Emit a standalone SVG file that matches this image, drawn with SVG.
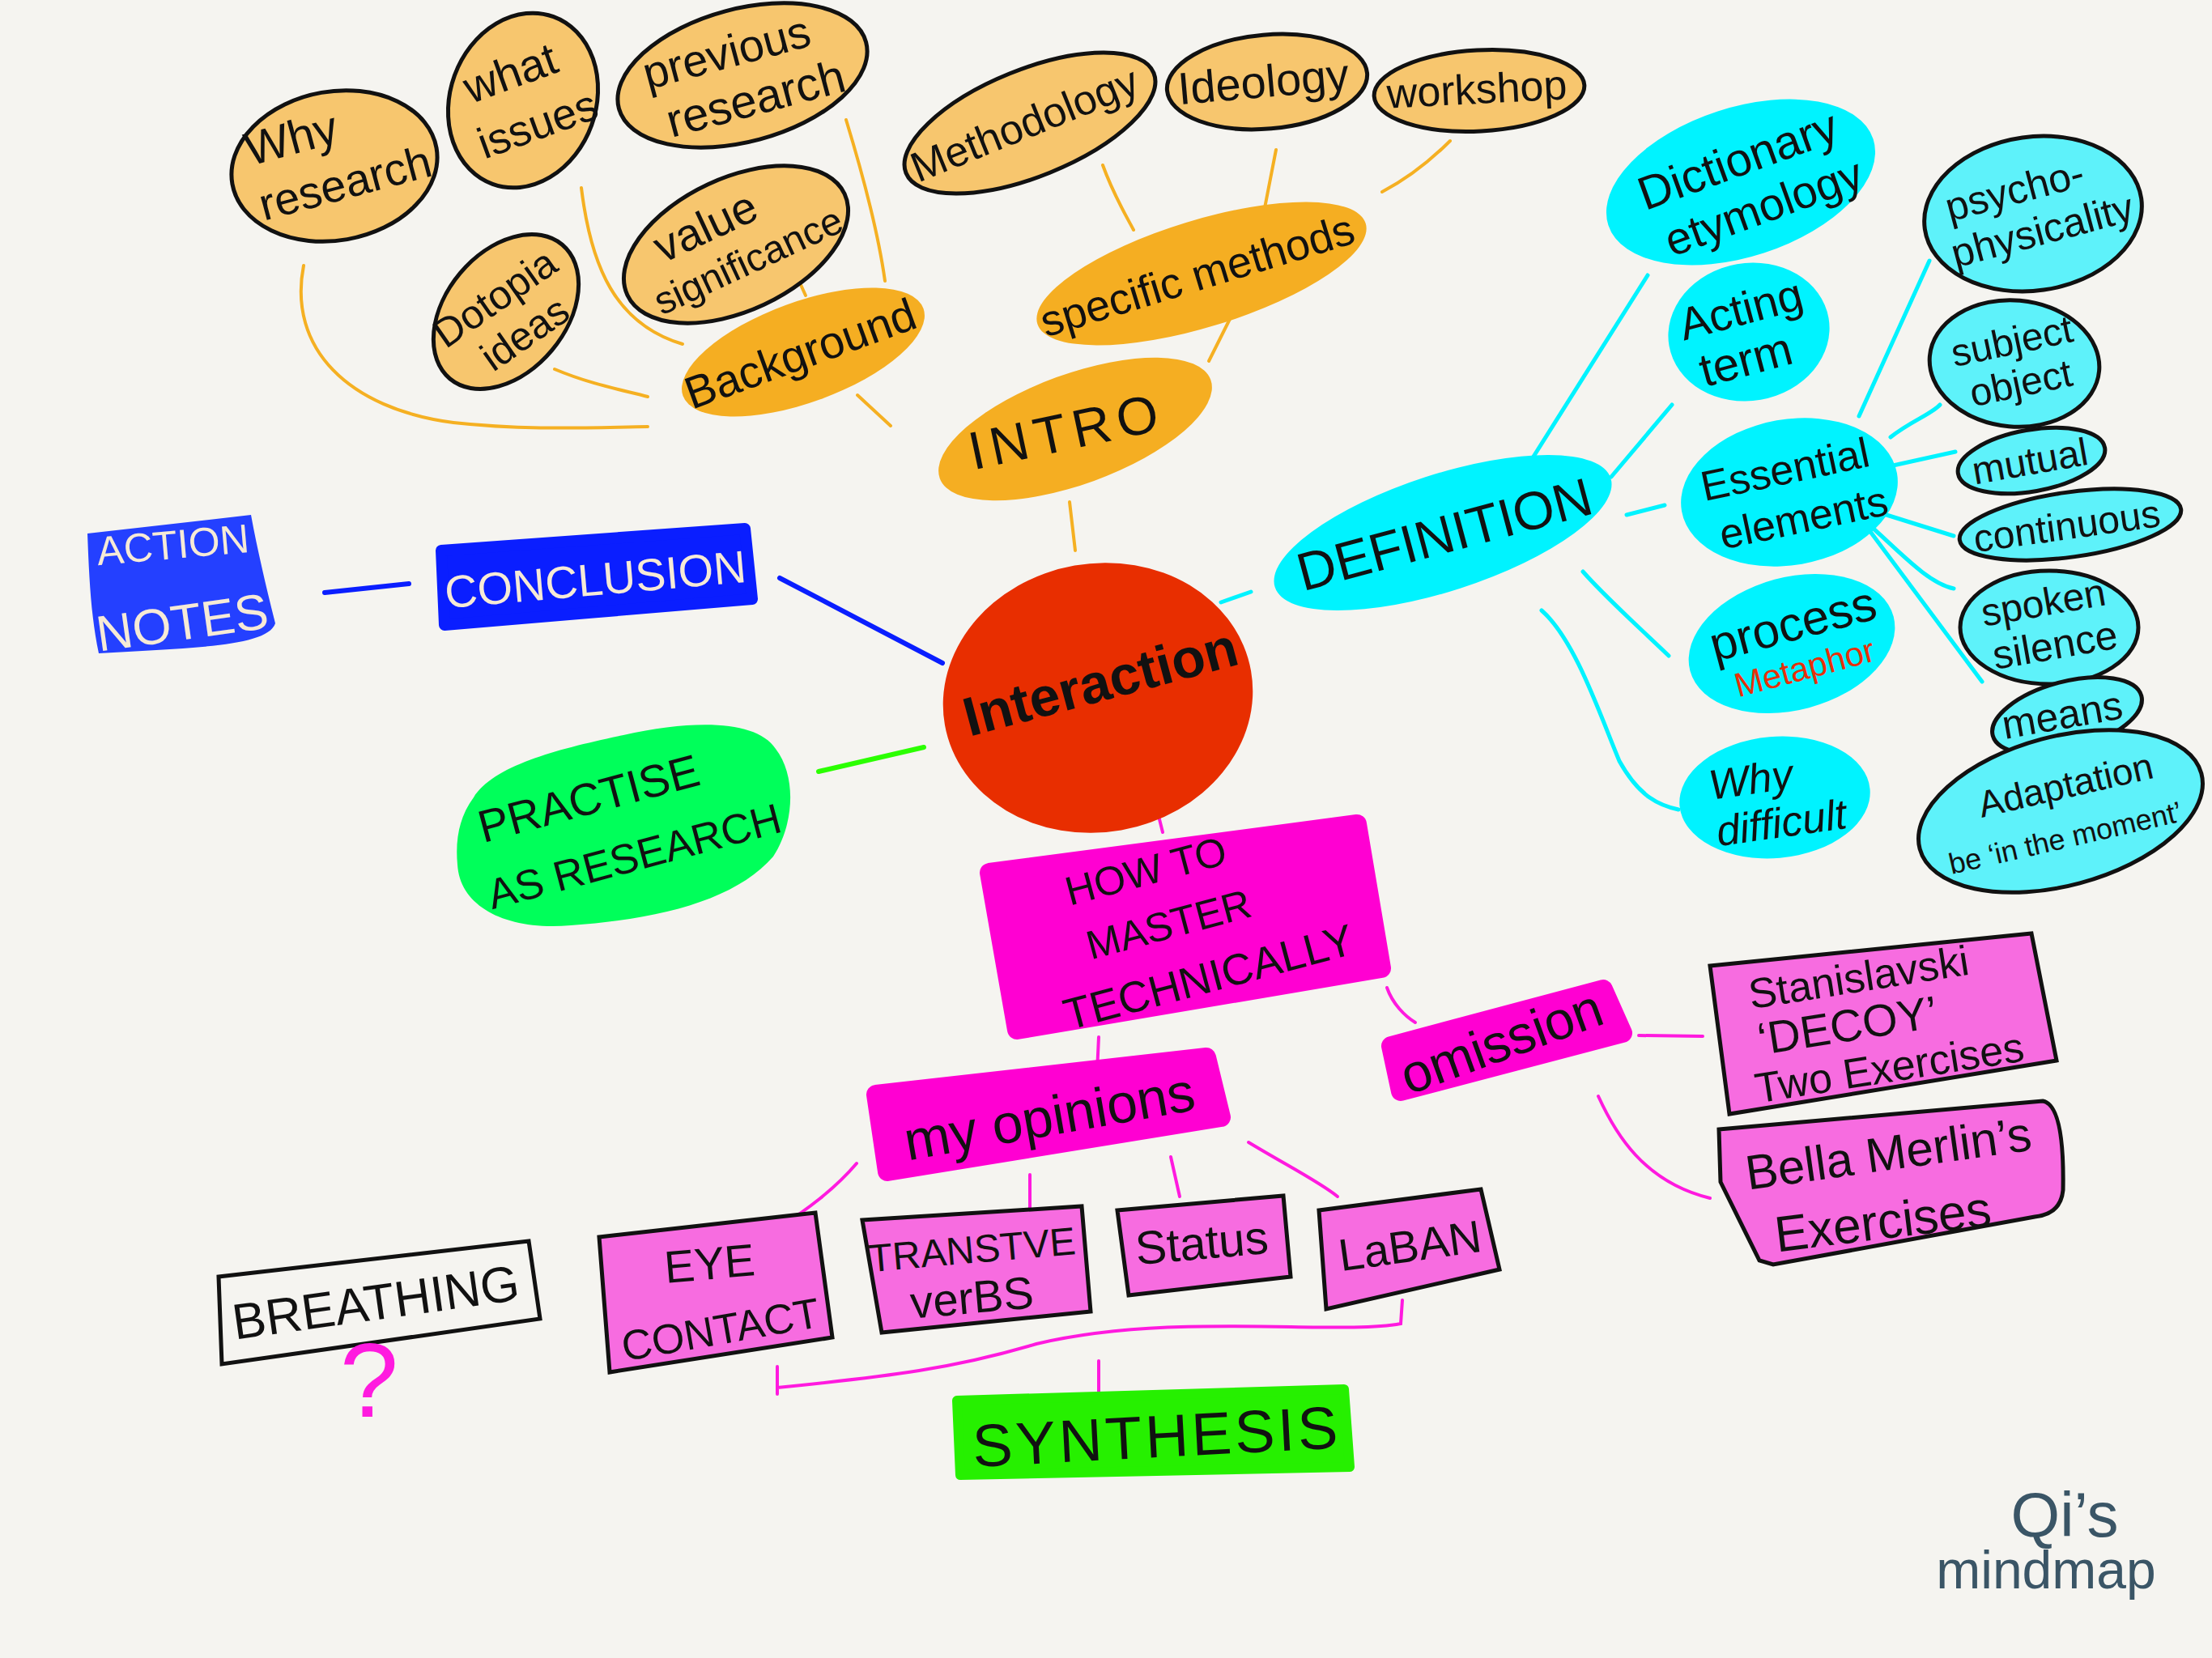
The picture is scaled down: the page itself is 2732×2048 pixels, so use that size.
<svg xmlns="http://www.w3.org/2000/svg" width="2732" height="2048" viewBox="0 0 2732 2048">
<defs>
<style>
text{font-family:"Liberation Sans","Noto Sans",sans-serif;fill:#111;text-anchor:middle}
.ol{stroke:#111;stroke-width:5}
.org{fill:#f5ae22}
.lorg{fill:#f7c66e}
.cy{fill:#00f3ff}
.lcy{fill:#5ef2fa}
.mag{fill:#ff00d2;stroke:#ff00d2;stroke-width:24;stroke-linejoin:round}
.pk{fill:#f76ce0}
.c-o{fill:none;stroke:#f5b022;stroke-width:4;stroke-linecap:round}
.c-c{fill:none;stroke:#00f3ff;stroke-width:5;stroke-linecap:round}
.c-b{fill:none;stroke:#0a1eff;stroke-width:6;stroke-linecap:round}
.c-g{fill:none;stroke:#2bff00;stroke-width:6;stroke-linecap:round}
.c-m{fill:none;stroke:#ff1adf;stroke-width:4;stroke-linecap:round}
.lt{fill:#f6ead6}
</style>
</defs>
<rect width="2732" height="2048" fill="#f5f4f0"/>

<g id="connectors">
<path class="c-o" d="M375,328 C355,430 430,505 560,522 C650,532 730,528 800,527"/>
<path class="c-o" d="M718,232 C730,330 760,400 843,425"/>
<path class="c-o" d="M1045,148 C1070,230 1085,290 1093,347"/>
<path class="c-o" d="M985,343 L995,365"/>
<path class="c-o" d="M685,456 C730,475 770,482 800,490"/>
<path class="c-o" d="M1059,488 L1100,526"/>
<path class="c-o" d="M1362,204 C1375,240 1390,265 1400,284"/>
<path class="c-o" d="M1576,185 L1561,262"/>
<path class="c-o" d="M1791,174 C1760,205 1730,225 1707,237"/>
<path class="c-o" d="M1519,394 L1493,446"/>
<path class="c-o" d="M1321,620 L1328,680"/>
<path class="c-c" d="M1508,744 L1545,731"/>
<path class="c-c" d="M1882,583 L2035,340"/>
<path class="c-c" d="M1990,589 L2065,500"/>
<path class="c-c" d="M2009,636 L2056,624"/>
<path class="c-c" d="M1955,706 C1985,740 2030,780 2061,810"/>
<path class="c-c" d="M1904,754 C1945,790 1975,880 2000,940 C2025,985 2050,995 2073,1000"/>
<path class="c-c" d="M2296,514 L2383,322"/>
<path class="c-c" d="M2335,540 C2360,520 2385,512 2396,500"/>
<path class="c-c" d="M2338,575 L2415,558"/>
<path class="c-c" d="M2314,631 L2413,662"/>
<path class="c-c" d="M2305,645 C2345,680 2380,720 2413,727"/>
<path class="c-c" d="M2305,650 L2448,842"/>
<path class="c-b" d="M963,714 L1164,819"/>
<path class="c-b" d="M401,732 L505,721"/>
<path class="c-g" d="M1011,953 L1141,923"/>
<path class="c-m" d="M1425,984 L1436,1028"/>
<path class="c-m" d="M1357,1281 L1355,1324"/>
<path class="c-m" d="M1713,1220 C1720,1240 1735,1255 1748,1263"/>
<path class="c-m" d="M2024,1279 L2103,1280"/>
<path class="c-m" d="M1974,1354 C1995,1400 2030,1460 2112,1480"/>
<path class="c-m" d="M1058,1437 C1030,1470 995,1495 963,1516"/>
<path class="c-m" d="M1272,1451 L1272,1493"/>
<path class="c-m" d="M1446,1429 L1457,1478"/>
<path class="c-m" d="M1542,1411 C1590,1440 1630,1460 1652,1478"/>
<path class="c-m" d="M960,1688 L960,1722 M960,1714 C1100,1700 1180,1690 1280,1660 C1450,1620 1650,1650 1730,1635 L1732,1606"/>
<path class="c-m" d="M1357,1681 L1357,1725"/>
</g>

<g id="why-research"><ellipse class="lorg ol" cx="413" cy="205" rx="128" ry="92" transform="rotate(-10 413 205)"/>
<g transform="translate(405,205) rotate(-15)"><text x="-35" y="-25" font-size="58">Why</text><text x="15" y="45" font-size="56">research</text></g></g>

<g id="what-issues"><ellipse class="lorg ol" cx="646" cy="124" rx="90" ry="110" transform="rotate(20 646 124)"/>
<g transform="translate(650,130) rotate(-20)"><text x="-5" y="-25" font-size="56">what</text><text x="5" y="45" font-size="54">issues</text></g></g>

<g id="previous-research"><ellipse class="lorg ol" cx="917" cy="93" rx="158" ry="82" transform="rotate(-15 917 93)"/>
<g transform="translate(917,100) rotate(-15)"><text x="-10" y="-20" font-size="56">previous</text><text x="10" y="45" font-size="58">research</text></g></g>

<g id="value-significance"><ellipse class="lorg ol" cx="909" cy="302" rx="148" ry="82" transform="rotate(-25 909 302)"/>
<g transform="translate(905,305) rotate(-25)"><text x="-20" y="-18" font-size="56">value</text><text x="10" y="40" font-size="48">significance</text></g></g>

<g id="dotopia-ideas"><ellipse class="lorg ol" cx="625" cy="385" rx="108" ry="74" transform="rotate(-50 625 385)"/>
<g transform="translate(628,392) rotate(-35)"><text x="0" y="-12" font-size="50">Dotopia</text><text x="5" y="45" font-size="50">ideas</text></g></g>

<g id="background"><ellipse class="org" cx="992" cy="435" rx="158" ry="62" transform="rotate(-20 992 435)"/>
<text font-size="56" transform="translate(995,455) rotate(-20)">Background</text></g>

<g id="methodology"><ellipse class="lorg ol" cx="1272" cy="152" rx="165" ry="66" transform="rotate(-22 1272 152)"/>
<text font-size="52" transform="translate(1272,170) rotate(-22)">Methodology</text></g>

<g id="ideology"><ellipse class="lorg ol" cx="1565" cy="101" rx="124" ry="58" transform="rotate(-5 1565 101)"/>
<text font-size="56" transform="translate(1562,120) rotate(-5)">Ideology</text></g>

<g id="workshop"><ellipse class="lorg ol" cx="1827" cy="112" rx="130" ry="50" transform="rotate(-3 1827 112)"/>
<text font-size="52" transform="translate(1825,128) rotate(-3)">workshop</text></g>

<g id="specific-methods"><ellipse class="org" cx="1484" cy="338" rx="212" ry="66" transform="rotate(-17 1484 338)"/>
<text font-size="54" transform="translate(1484,358) rotate(-17)">specific methods</text></g>

<g id="intro"><ellipse class="org" cx="1328" cy="530" rx="178" ry="68" transform="rotate(-20 1328 530)"/>
<text font-size="66" letter-spacing="8" transform="translate(1322,555) rotate(-12)">INTRO</text></g>

<g id="interaction"><ellipse fill="#e82e00" cx="1356" cy="862" rx="192" ry="166" transform="rotate(-10 1356 862)"/>
<text font-size="68" font-weight="bold" transform="translate(1365,865) rotate(-15)">Interaction</text></g>

<g id="definition"><ellipse class="cy" cx="1782" cy="658" rx="218" ry="72" transform="rotate(-18 1782 658)"/>
<text font-size="66" transform="translate(1790,682) rotate(-15)">DEFINITION</text></g>

<g id="dictionary-etymology"><ellipse class="cy" cx="2150" cy="225" rx="172" ry="92" transform="rotate(-18 2150 225)"/>
<g transform="translate(2160,235) rotate(-20)"><text y="-20" font-size="58">Dictionary</text><text x="10" y="45" font-size="56">etymology</text></g></g>

<g id="acting-term"><ellipse class="cy" cx="2160" cy="410" rx="100" ry="85" transform="rotate(-10 2160 410)"/>
<g transform="translate(2160,420) rotate(-15)"><text y="-20" font-size="56">Acting</text><text x="-10" y="42" font-size="58">term</text></g></g>

<g id="essential-elements"><ellipse class="cy" cx="2210" cy="608" rx="135" ry="90" transform="rotate(-10 2210 608)"/>
<g transform="translate(2212,615) rotate(-12)"><text y="-18" font-size="52">Essential</text><text x="10" y="45" font-size="52">elements</text></g></g>

<g id="process"><ellipse class="cy" cx="2213" cy="795" rx="130" ry="82" transform="rotate(-15 2213 795)"/>
<g transform="translate(2222,800) rotate(-15)"><text y="-10" font-size="60">process</text><text y="40" font-size="42" style="fill:#e8300a">Metaphor</text></g></g>

<g id="why-difficult"><ellipse class="cy" cx="2192" cy="985" rx="118" ry="75" transform="rotate(-5 2192 985)"/>
<g transform="translate(2192,995) rotate(-8)" font-style="italic"><text x="-25" y="-18" font-size="52">Why</text><text x="5" y="40" font-size="52">difficult</text></g></g>

<g id="psycho-physicality"><ellipse class="lcy ol" cx="2511" cy="264" rx="135" ry="95" transform="rotate(-8 2511 264)"/>
<g transform="translate(2508,270) rotate(-15)"><text x="-10" y="-22" font-size="50">psycho-</text><text x="10" y="35" font-size="50">physicality</text></g></g>

<g id="subject-object"><ellipse class="lcy ol" cx="2488" cy="449" rx="105" ry="78" transform="rotate(5 2488 449)"/>
<g transform="translate(2492,455) rotate(-12)"><text y="-18" font-size="48">subject</text><text y="35" font-size="48">object</text></g></g>

<g id="mutual"><ellipse class="lcy ol" cx="2509" cy="569" rx="92" ry="38" transform="rotate(-10 2509 569)"/>
<text font-size="48" transform="translate(2510,586) rotate(-10)">mutual</text></g>

<g id="continuous"><ellipse class="lcy ol" cx="2557" cy="648" rx="138" ry="40" transform="rotate(-8 2557 648)"/>
<text font-size="48" transform="translate(2555,666) rotate(-8)">continuous</text></g>

<g id="spoken-silence"><ellipse class="lcy ol" cx="2531" cy="775" rx="110" ry="70"/>
<g transform="translate(2530,780) rotate(-10)"><text y="-20" font-size="48">spoken</text><text x="5" y="35" font-size="50">silence</text></g></g>

<g id="means"><ellipse class="lcy ol" cx="2553" cy="884" rx="95" ry="42" transform="rotate(-15 2553 884)"/>
<text font-size="50" transform="translate(2550,900) rotate(-10)">means</text></g>

<g id="adaptation"><ellipse class="lcy ol" cx="2545" cy="1002" rx="180" ry="92" transform="rotate(-15 2545 1002)"/>
<g transform="translate(2545,1010) rotate(-13)"><text x="15" y="-22" font-size="46">Adaptation</text><text y="38" font-size="36">be ‘in the moment’</text></g></g>

<g id="action-notes"><path fill="#2440ff" d="M108,659 L310,636 C318,680 330,730 340,770 C330,800 230,800 122,807 C112,760 110,710 108,659 Z"/>
<text class="lt" font-size="50" transform="translate(215,690) rotate(-5)">ACTION</text>
<text class="lt" font-size="62" transform="translate(228,790) rotate(-8)">NOTES</text></g>

<g id="conclusion"><path fill="#0a1eff" stroke="#0a1eff" stroke-width="14" stroke-linejoin="round" d="M545,680 L920,653 L929,740 L549,772 Z"/>
<text class="lt" font-size="56" transform="translate(737,735) rotate(-5)">CONCLUSION</text></g>

<g id="practise-as-research"><path fill="#00ff5a" d="M585,985 C610,945 690,925 770,908 C860,888 935,890 958,925 C985,960 980,1020 955,1058 C910,1110 820,1135 705,1143 C625,1150 568,1120 565,1068 C562,1035 568,1008 585,985 Z"/>
<text font-size="56" transform="translate(732,1005) rotate(-15)">PRACTISE</text>
<text font-size="52" transform="translate(788,1075) rotate(-15)">AS RESEARCH</text></g>

<g id="how-to-master"><path class="mag" d="M1222,1078 L1676,1018 L1706,1196 L1256,1272 Z"/>
<text font-size="50" transform="translate(1460,1150) rotate(-15)"><tspan x="-24" y="-66">HOW TO</tspan><tspan x="-14" y="5">MASTER</tspan><tspan x="17" y="82" font-size="54">TECHNICALLY</tspan></text></g>

<g id="omission"><path class="mag" d="M1718,1292 L1980,1222 L2004,1276 L1730,1348 Z"/>
<text font-size="66" transform="translate(1862,1308) rotate(-20)">omission</text></g>

<g id="my-opinions"><path class="mag" d="M1082,1352 L1490,1306 L1508,1380 L1096,1447 Z"/>
<text font-size="68" transform="translate(1300,1402) rotate(-10)">my opinions</text></g>

<g id="stanislavski"><path class="pk ol" d="M2112,1193 L2509,1153 L2540,1310 L2136,1376 Z"/>
<g transform="rotate(-9 2320 1265)"><text x="2305" y="1222" font-size="52">Stanislavski</text><text x="2282" y="1280" font-size="56">‘DECOY’</text><text x="2325" y="1338" font-size="52">Two Exercises</text></g></g>

<g id="bella-merlin"><path class="pk ol" d="M2123,1395 L2523,1360 Q2550,1365 2548,1470 Q2545,1500 2513,1503 L2190,1562 L2173,1557 L2125,1460 Z"/>
<text font-size="60" transform="translate(2335,1445) rotate(-8)">Bella Merlin’s</text>
<text font-size="62" transform="translate(2328,1530) rotate(-7)">Exercises</text></g>

<g id="breathing"><path fill="#f5f4f0" class="ol" d="M270,1577 L653,1533 L667,1629 L274,1685 Z"/>
<text font-size="62" transform="translate(467,1630) rotate(-8)">BREATHING</text>
<text font-size="130" style="fill:#ff1adf" transform="translate(456,1750)">?</text></g>

<g id="eye-contact"><path class="pk ol" d="M740,1528 L1007,1498 L1028,1652 L753,1695 Z"/>
<text font-size="56" transform="translate(878,1580) rotate(-5)">EYE</text>
<text font-size="52" transform="translate(893,1660) rotate(-10)">CONTACT</text></g>

<g id="transitive-verbs"><path class="pk ol" d="M1065,1507 L1336,1490 L1347,1620 L1089,1646 Z"/>
<text font-size="48" transform="translate(1202,1560) rotate(-5)">TRANSTVE</text>
<text font-size="56" transform="translate(1202,1622) rotate(-5)">verBS</text></g>

<g id="status"><path class="pk ol" d="M1380,1495 L1585,1477 L1594,1577 L1394,1600 Z"/>
<text font-size="58" transform="translate(1486,1555) rotate(-5)">Status</text></g>

<g id="laban"><path class="pk ol" d="M1629,1495 L1829,1469 L1852,1568 L1638,1617 Z"/>
<text font-size="56" transform="translate(1744,1558) rotate(-8)">LaBAN</text></g>

<g id="synthesis"><path fill="#26f000" stroke="#26f000" stroke-width="12" stroke-linejoin="round" d="M1182,1730 L1660,1716 L1667,1812 L1186,1822 Z"/>
<text font-size="74" letter-spacing="4" transform="translate(1430,1800) rotate(-3)">SYNTHESIS</text></g>

<g id="signature"><text font-size="78" style="fill:#3a5566" x="2550" y="1898">Qi’s</text>
<text font-size="66" style="fill:#3a5566" x="2527" y="1962">mindmap</text></g>
</svg>
